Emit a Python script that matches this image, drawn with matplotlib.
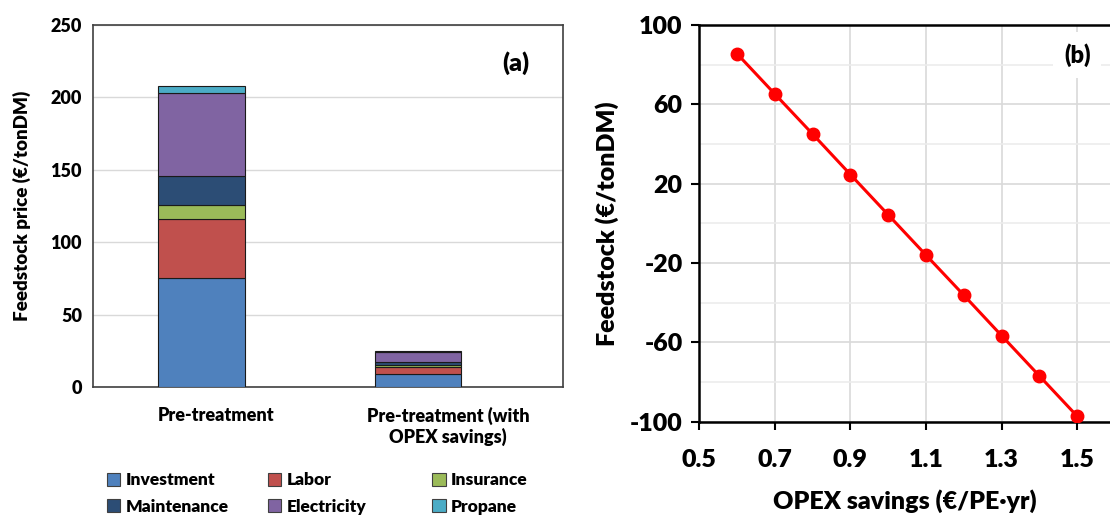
import numpy as np
import matplotlib
matplotlib.use('Agg')
import matplotlib.pyplot as plt
from matplotlib.patches import Patch
from matplotlib.ticker import MultipleLocator

plt.rcParams['font.family'] = ['Lato', 'DejaVu Sans']
plt.rcParams['font.weight'] = 'heavy'
plt.rcParams['axes.unicode_minus'] = False
W = 'heavy'

# (a) stacked cost breakdown
scenarios = ['Pre-treatment', 'Pre-treatment (with\nOPEX savings)']
components = ['Investment', 'Labor', 'Insurance', 'Maintenance', 'Electricity', 'Propane']
investment = [75, 9]
labor = [41, 5]
insurance = [10, 1.5]
maintenance = [20, 2]
electricity = [57, 7]
propane = [4.6, 0.5]
comp_colors = ['#4F81BD', '#C0504D', '#9BBB59', '#2C4D75', '#8064A2', '#4BACC6']

# (b) sensitivity to OPEX savings
opex_savings = [0.6, 0.7, 0.8, 0.9, 1.0, 1.1, 1.2, 1.3, 1.4, 1.5]
feedstock = [85.5, 65.2, 45.0, 24.6, 4.3, -16.0, -36.2, -56.6, -76.9, -97.2]

fig = plt.figure(figsize=(11.1, 5.21), dpi=100)

# ---- panel (a)
ax1 = fig.add_axes([0.0838, 0.257, 0.4234, 0.695])
xs = np.arange(len(scenarios))
bottom = np.zeros(len(scenarios))
for vals, col in zip([investment, labor, insurance, maintenance, electricity, propane], comp_colors):
    ax1.bar(xs, vals, width=0.4, bottom=bottom, color=col, edgecolor='#1a1a1a', linewidth=0.8, zorder=3)
    bottom += np.array(vals)

ax1.set_xlim(-0.5, 1.67)
ax1.set_ylim(0, 250)
ax1.yaxis.set_major_locator(MultipleLocator(50))
ax1.set_xticks(xs + np.array([0.07, 0.14]))
ax1.set_xticklabels(scenarios, fontsize=14, fontweight=W)
ax1.tick_params(axis='both', length=0, labelsize=13, pad=8)
ax1.tick_params(axis='x', pad=14)
for lab in ax1.get_yticklabels():
    lab.set_fontweight(W)
ax1.grid(axis='y', color='#d9d9d9', linewidth=1, zorder=0)
for s in ax1.spines.values():
    s.set_color('#404040')
    s.set_linewidth(1.2)
ax1.set_ylabel('Feedstock price (€/tonDM)', fontsize=13.5, fontweight=W, labelpad=14)
ax1.text(0.9, 0.895, '(a)', transform=ax1.transAxes, fontsize=18, fontweight=W, ha='center', va='center')

# legend: one column of two entries per legend, rows read left to right
handles = [Patch(facecolor=c, edgecolor='#404040', linewidth=0.8, label=n) for n, c in zip(components, comp_colors)]
for col, x0 in enumerate([0.096, 0.241, 0.389]):
    fig.legend([handles[col], handles[col + 3]], [components[col], components[col + 3]],
               loc='center left', bbox_to_anchor=(x0, 0.053), frameon=False,
               prop={'size': 12.5, 'weight': W}, handlelength=0.8, handleheight=0.8,
               handletextpad=0.3, labelspacing=0.6, borderpad=0, borderaxespad=0)

# ---- panel (b)
ax2 = fig.add_axes([0.63, 0.1906, 0.37, 0.7614])
ax2.plot(opex_savings, feedstock, color='#FF0000', linewidth=2.2, marker='o', markersize=9, zorder=3)
ax2.set_xlim(0.5, 1.587)
ax2.set_ylim(-100, 100)
ax2.set_xticks([0.5, 0.7, 0.9, 1.1, 1.3, 1.5])
ax2.set_yticks([-100, -60, -20, 20, 60, 100])
ax2.yaxis.set_minor_locator(MultipleLocator(20))
ax2.grid(which='major', color='#d9d9d9', linewidth=1.2, zorder=0)
ax2.grid(which='minor', axis='y', color='#ececec', linewidth=1.2, zorder=0)
ax2.tick_params(which='minor', length=0)
ax2.tick_params(which='major', direction='out', length=6, width=1.5, labelsize=18, pad=6)
ax2.tick_params(axis='x', pad=14)
for lab in ax2.get_xticklabels() + ax2.get_yticklabels():
    lab.set_fontweight(W)
ax2.spines['top'].set_linewidth(1.8)
ax2.spines['left'].set_linewidth(1.8)
ax2.spines['bottom'].set_linewidth(1.8)
ax2.spines['right'].set_visible(False)
ax2.set_ylabel('Feedstock (€/tonDM)', fontsize=18, fontweight=W, labelpad=8)
ax2.set_xlabel('OPEX savings (€/PE·yr)', fontsize=18, fontweight=W, labelpad=13)
ax2.text(1.5, 85, '(b)', fontsize=17, fontweight=W, ha='center', va='center',
         bbox=dict(facecolor='white', edgecolor='none', pad=8), zorder=4)

fig.savefig('out.png', dpi=100)
